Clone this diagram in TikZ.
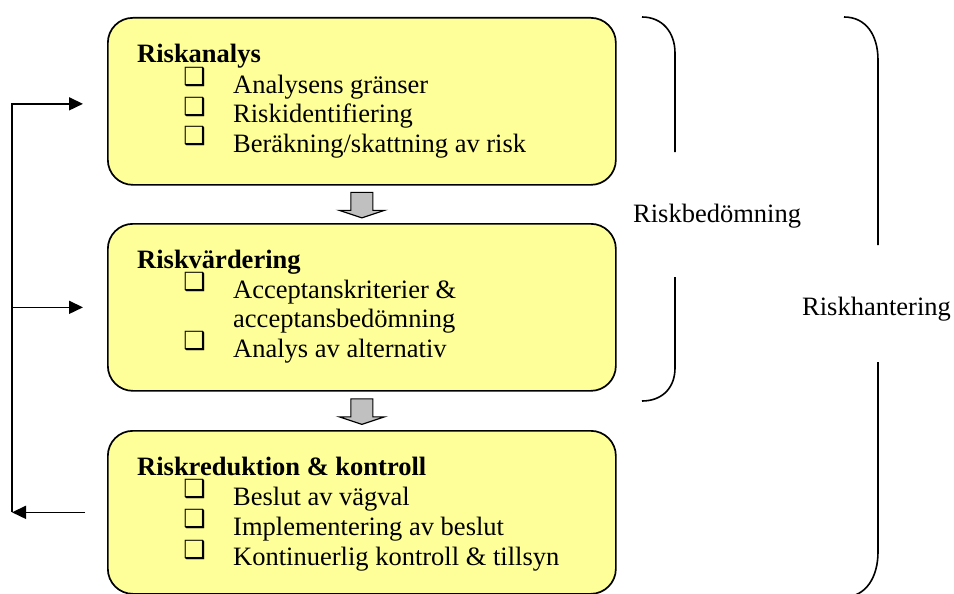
\documentclass[tikz,border=0pt]{standalone}
\usepackage{fontspec}
\setmainfont{Liberation Serif}
\newfontfamily\symfont{DejaVu Sans}
\usetikzlibrary{calc,arrows.meta}
\definecolor{boxfill}{RGB}{255,255,153}
\definecolor{arrowfill}{RGB}{192,192,192}
\begin{document}
\begin{tikzpicture}[x=1pt,y=-1pt,
  box/.style={draw=black, line width=1.7pt, fill=boxfill, rounded corners=25pt,
    minimum width=508pt, minimum height=167pt, anchor=north west, inner sep=0pt},
  ttl/.style={anchor=base west, inner sep=0pt, font=\fontsize{26.5}{30}\selectfont\bfseries},
  itm/.style={anchor=base west, inner sep=0pt, font=\fontsize{26.5}{30}\selectfont},
  bul/.style={inner sep=0pt, font=\symfont\fontsize{25}{25}\selectfont},
  blk/.style={draw=black, line width=1.2pt, fill=arrowfill, line join=miter},
  fb/.style={line width=1.6pt, -{Triangle[length=14pt,width=13pt]}},
  brk/.style={line width=1.6pt},
  downarrow/.pic={\draw[blk] (-11,-12) -- (11,-12) -- (11,6) -- (22.5,6) -- (0,13.5)
    -- (-22.5,6) -- (-11,6) -- cycle;}
]
\useasboundingbox (0,0) rectangle (954,594);
\clip (0,0) rectangle (954,594);

% the three process stages
\node[box] (b1) at (107,17) {};
\node[box] (b2) at (107,223) {};
\node[box, minimum height=163pt] (b3) at (107,430) {};

% stage 1
\node[ttl] (t1) at ($(b1.north west)+(30,46)$) {Riskanalys};
\node[itm] (i11) at ($(b1.north west)+(126,76)$) {Analysens gränser};
\node[itm] (i12) at ($(b1.north west)+(126,105.5)$) {Riskidentifiering};
\node[itm] (i13) at ($(b1.north west)+(126,135)$) {Beräkning/skattning av risk};
\node[bul] (m11) at ($(i11.base west)+(-38.5,-15.5)$) {❑};
\node[bul] (m12) at ($(i12.base west)+(-38.5,-15.5)$) {❑};
\node[bul] (m13) at ($(i13.base west)+(-38.5,-15.5)$) {❑};

% stage 2
\node[ttl] (t2) at ($(b2.north west)+(30,45.5)$) {Riskvärdering};
\node[itm] (i21) at ($(b2.north west)+(126,75)$) {Acceptanskriterier \&};
\node[itm] (i21b) at ($(b2.north west)+(126,104.5)$) {acceptansbedömning};
\node[itm] (i22) at ($(b2.north west)+(126,134)$) {Analys av alternativ};
\node[bul] (m21) at ($(i21.base west)+(-38.5,-15.5)$) {❑};
\node[bul] (m22) at ($(i22.base west)+(-38.5,-15.5)$) {❑};

% stage 3
\node[ttl] (t3) at ($(b3.north west)+(30,45)$) {Riskreduktion \& kontroll};
\node[itm] (i31) at ($(b3.north west)+(126,75)$) {Beslut av vägval};
\node[itm] (i32) at ($(b3.north west)+(126,105)$) {Implementering av beslut};
\node[itm] (i33) at ($(b3.north west)+(126,135)$) {Kontinuerlig kontroll \& tillsyn};
\node[bul] (m31) at ($(i31.base west)+(-38.5,-15.5)$) {❑};
\node[bul] (m32) at ($(i32.base west)+(-38.5,-15.5)$) {❑};
\node[bul] (m33) at ($(i33.base west)+(-38.5,-15.5)$) {❑};

% block arrows between stages
\pic at ($(b1.south)!0.5!(b2.north)$) {downarrow};
\pic at ($(b2.south)!0.5!(b3.north)$) {downarrow};

% feedback loop on the left
\coordinate (f1) at ($(b1.west)+(-24,2.5)$);
\coordinate (f2) at ($(b2.west)+(-24,0)$);
\coordinate (f3) at ($(b3.west)+(-22,0)$);
\coordinate (k1) at (12,0 |- f1);
\coordinate (k2) at (12,0 |- f2);
\coordinate (k3) at (12,0 |- f3);
\draw[fb] (k3) -- (k1) -- (f1);
\draw[fb] (k2) -- (f2);
\draw[fb] (f3) -- (k3);

% bracket labels
\node[itm] (lb) at (633,222) {Riskbedömning};
\node[itm] (lh) at (802,315) {Riskhantering};

% bracket for Riskbedömning
\draw[brk] (642,17) .. controls (662,17) and (675,32) .. (675,53) -- (675,152);
\draw[brk] (675,277) -- (675,368) .. controls (675,388) and (662,401) .. (642,401);

% bracket for Riskhantering
\draw[brk] (844,17) .. controls (866,17) and (878,35) .. (878,60) -- (878,245);
\draw[brk] (878,362) -- (878,552) .. controls (878,577) and (866,597) .. (844,597);
\end{tikzpicture}
\end{document}
